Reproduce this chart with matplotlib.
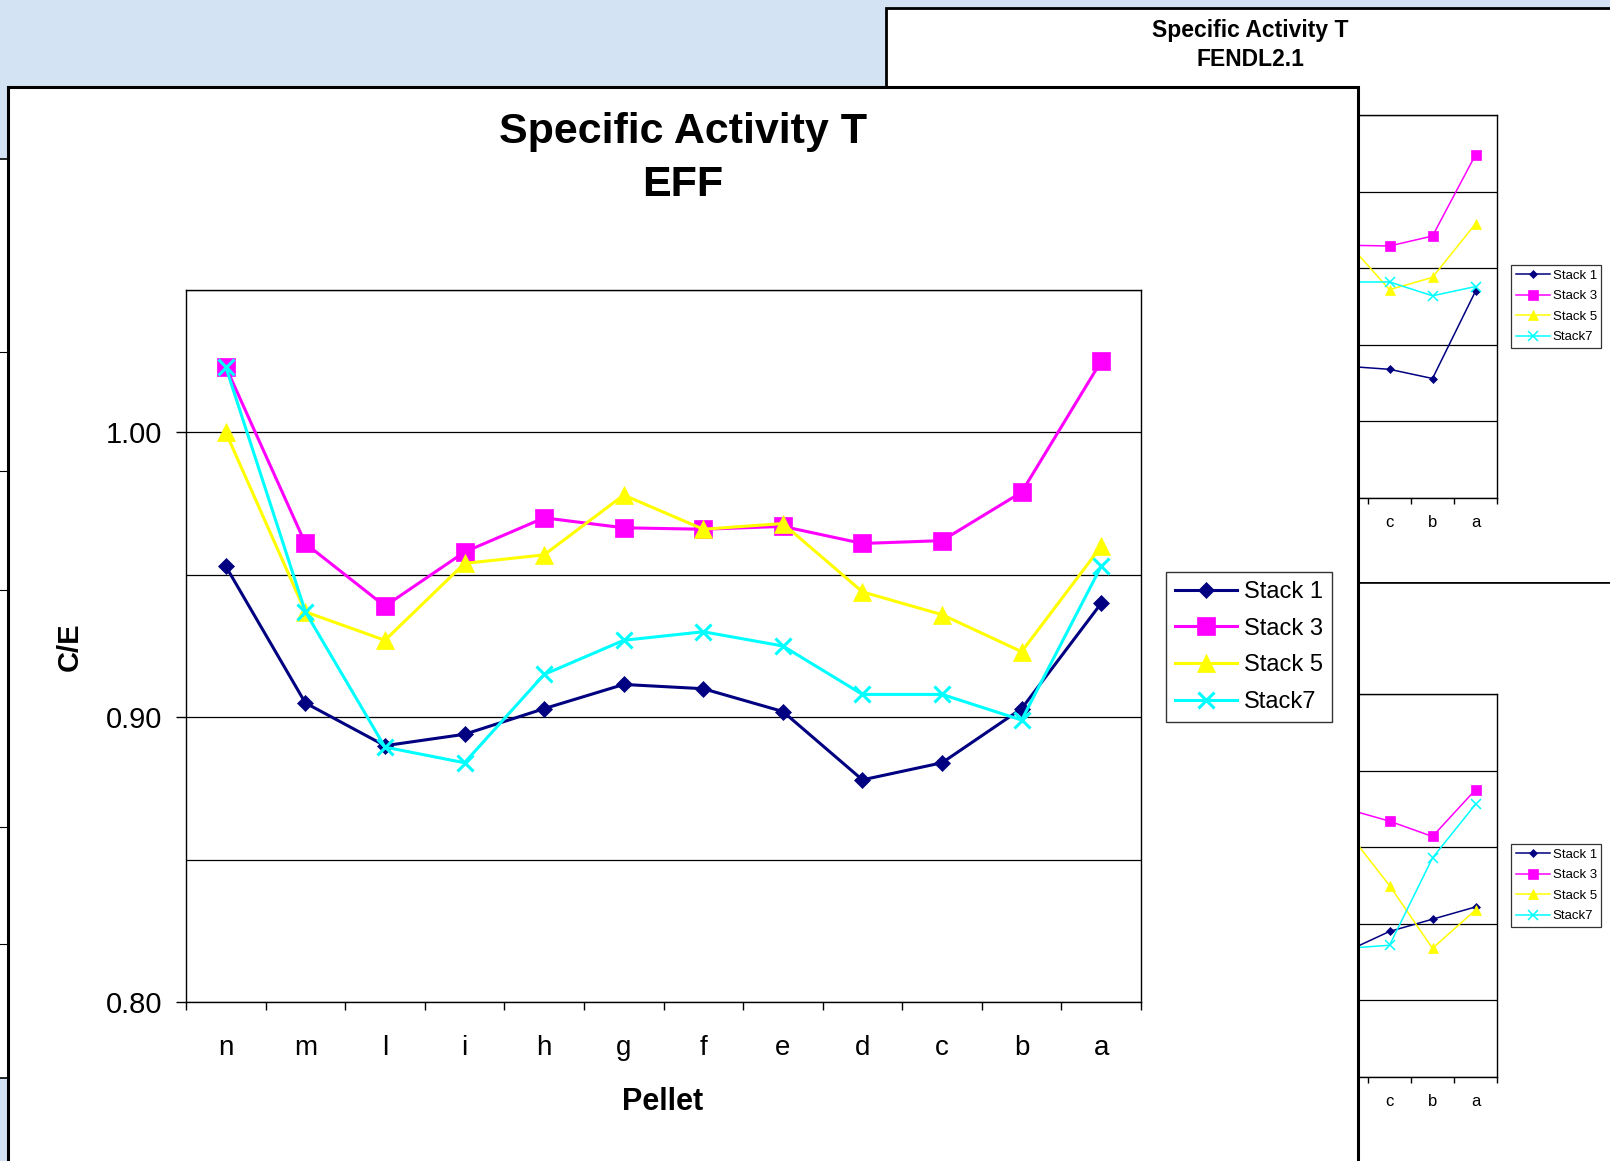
import numpy as np
import matplotlib
matplotlib.use("Agg")
import matplotlib.pyplot as plt
from matplotlib.patches import Rectangle
from matplotlib.lines import Line2D
from matplotlib.ticker import FixedLocator, MultipleLocator, FormatStrFormatter

plt.rcParams["font.family"] = ["Liberation Sans", "DejaVu Sans"]

W, H = 1610, 1161

pellets = ["n", "m", "l", "i", "h", "g", "f", "e", "d", "c", "b", "a"]
series_names = ["Stack 1", "Stack 3", "Stack 5", "Stack7"]

# C/E per pellet, EFF library
eff_stack1 = [0.953, 0.905, 0.890, 0.894, 0.903, 0.9115, 0.910, 0.902, 0.878, 0.884, 0.903, 0.940]
eff_stack3 = [1.023, 0.961, 0.939, 0.958, 0.970, 0.9665, 0.966, 0.967, 0.961, 0.962, 0.979, 1.025]
eff_stack5 = [1.000, 0.937, 0.927, 0.954, 0.957, 0.978, 0.966, 0.968, 0.944, 0.936, 0.923, 0.960]
eff_stack7 = [1.023, 0.937, 0.8895, 0.884, 0.915, 0.927, 0.930, 0.925, 0.908, 0.908, 0.899, 0.953]

# FENDL2.1 chart, pellets d..a
fendl_stack1 = [0.886, 0.884, 0.878, 0.935]
fendl_stack3 = [0.965, 0.9645, 0.971, 1.024]
fendl_stack5 = [0.9675, 0.936, 0.944, 0.979]
fendl_stack7 = [0.941, 0.941, 0.932, 0.938]

# chart below it, pellets d..a
other_stack1 = [0.882, 0.895, 0.903, 0.911]
other_stack3 = [0.975, 0.967, 0.957, 0.9875]
other_stack5 = [0.961, 0.925, 0.884, 0.909]
other_stack7 = [0.884, 0.886, 0.943, 0.978]

colors = ["#000080", "#FF00FF", "#FFFF00", "#00FFFF"]
markers = ["D", "s", "^", "x"]


def fx(x):
    return x / W


def fy(y):
    return 1 - y / H


def pad_tail(values):
    # only the last pellets are known, the rest stay empty
    return np.r_[np.full(len(pellets) - len(values), np.nan), values]


def style_chart(ax, tick_size, label_size, label_pad):
    x = np.arange(len(pellets))
    ax.set_xlim(-0.5, len(pellets) - 0.5)
    ax.set_ylim(0.80, 1.05)
    ax.xaxis.set_major_locator(FixedLocator(x))
    ax.set_xticklabels(pellets)
    ax.xaxis.set_minor_locator(FixedLocator(np.arange(-0.5, len(pellets), 1.0)))
    ax.tick_params(axis="x", which="major", length=0, labelsize=label_size, pad=label_pad)
    ax.tick_params(axis="x", which="minor", length=tick_size, direction="out", width=1)
    ax.yaxis.set_minor_locator(MultipleLocator(0.05))
    ax.grid(True, axis="y", which="both", color="black", lw=0.9)
    for s in ax.spines.values():
        s.set_linewidth(1)
        s.set_color("black")


def draw_lines(ax, data, lw, sizes, mew):
    x = np.arange(len(pellets))
    for name, ys, c, m, ms in zip(series_names, data, colors, markers, sizes):
        ax.plot(x, ys, color=c, lw=lw, marker=m, ms=ms, mec=c, mfc=c,
                mew=mew if m == "x" else 0.5, label=name, clip_on=False)


fig = plt.figure(figsize=(W / 100, H / 100), dpi=100)
fig.patch.set_facecolor("#d3e3f3")

# window hidden on the left
fig.add_artist(Rectangle((fx(-40), fy(1078)), fx(48), fy(159) - fy(1078),
                         transform=fig.transFigure, fc="white", ec="black", lw=1.2, zorder=1))
for y in [352, 471, 590, 827, 944]:
    fig.add_artist(Line2D([0, fx(8)], [fy(y), fy(y)], transform=fig.transFigure,
                          color="black", lw=0.8, zorder=1.1))

# FENDL2.1 window (upper right)
fig.add_artist(Rectangle((fx(886), fy(583)), 1.05 - fx(886), fy(8) - fy(583),
                         transform=fig.transFigure, fc="white", ec="black", lw=2, zorder=2))
fig.text(fx(1250), fy(31), "Specific Activity T", ha="center", va="center",
         fontsize=16.5, fontweight="bold", zorder=3)
fig.text(fx(1250), fy(59.5), "FENDL2.1", ha="center", va="center",
         fontsize=16.5, fontweight="bold", zorder=3)

# window below it
fig.add_artist(Rectangle((fx(1000), fy(1190)), 1.05 - fx(1000), fy(583) - fy(1190),
                         transform=fig.transFigure, fc="white", ec="black", lw=1.2, zorder=4))

small_sizes = [4.5, 6.5, 7, 6.5]
for top, bottom, data, z in [
    (115, 498, [fendl_stack1, fendl_stack3, fendl_stack5, fendl_stack7], 3),
    (694, 1077, [other_stack1, other_stack3, other_stack5, other_stack7], 5),
]:
    ax_b = fig.add_axes([fx(981), fy(bottom), 516 / W, (bottom - top) / H], zorder=z)
    style_chart(ax_b, 4, 12, 12)
    ax_b.tick_params(axis="y", which="both", length=0, labelleft=False)
    draw_lines(ax_b, [pad_tail(d) for d in data], 1.1, small_sizes, 1.1)
    leg_b = ax_b.legend(loc="center left", bbox_to_anchor=(fx(1511), fy((top + bottom) / 2)),
                        bbox_transform=fig.transFigure, fontsize=9.5, frameon=True, fancybox=False,
                        edgecolor="black", handlelength=2.6, handletextpad=0.2,
                        borderpad=0.35, labelspacing=0.62, borderaxespad=0)
    leg_b.get_frame().set_linewidth(0.9)

# main EFF window
fig.add_artist(Rectangle((fx(8), fy(1190)), fx(1358) - fx(8), fy(87) - fy(1190),
                         transform=fig.transFigure, fc="white", ec="black", lw=2.2, zorder=10))

ax = fig.add_axes([fx(186), fy(1002), (1141 - 186) / W, (1002 - 290) / H], zorder=11)
style_chart(ax, 6, 20, 24)
ax.yaxis.set_major_locator(FixedLocator([0.80, 0.90, 1.00]))
ax.yaxis.set_major_formatter(FormatStrFormatter("%.2f"))
ax.tick_params(axis="y", which="major", length=7, width=1, labelsize=21, pad=10)
ax.tick_params(axis="y", which="minor", length=0)
draw_lines(ax, [eff_stack1, eff_stack3, eff_stack5, eff_stack7], 2.2, [8.5, 12.5, 13, 12], 2.2)

leg = ax.legend(loc="center left", bbox_to_anchor=(fx(1166), fy(647)),
                bbox_transform=fig.transFigure, fontsize=17, frameon=True, fancybox=False,
                edgecolor="black", handlelength=2.6, handletextpad=0.3,
                borderpad=0.4, labelspacing=0.62, borderaxespad=0)
leg.get_frame().set_linewidth(1)

fig.text(fx(683), fy(132), "Specific Activity T", ha="center", va="center",
         fontsize=31, fontweight="bold", zorder=12)
fig.text(fx(683), fy(185), "EFF", ha="center", va="center",
         fontsize=31, fontweight="bold", zorder=12)
fig.text(fx(70), fy(647), "C/E", ha="center", va="center", rotation=90,
         fontsize=21, fontweight="bold", zorder=12)
fig.text(fx(663), fy(1102), "Pellet", ha="center", va="center",
         fontsize=22, fontweight="bold", zorder=12)

fig.savefig("out.png", dpi=100)
